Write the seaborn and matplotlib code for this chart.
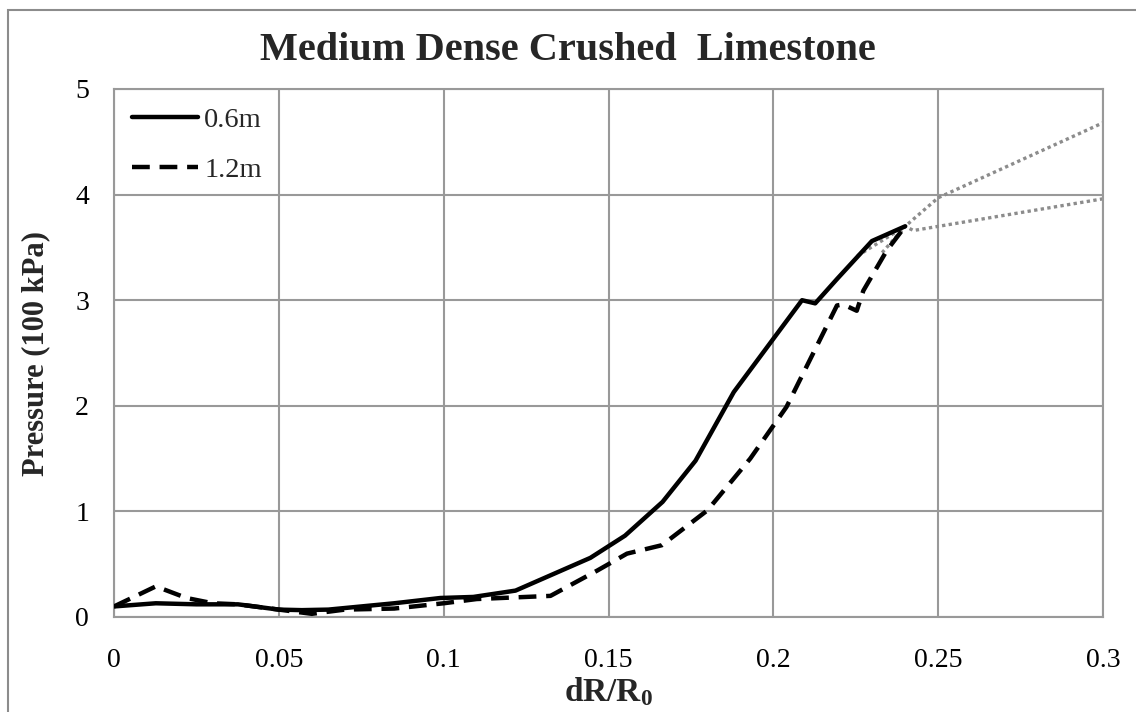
import matplotlib
matplotlib.use("Agg")
import matplotlib.pyplot as plt
import seaborn as sns
import pandas as pd
from matplotlib.patches import Rectangle

# ---- data ----
x_06 = [0, 0.0127, 0.025, 0.0376, 0.05, 0.057, 0.065, 0.075, 0.085, 0.099, 0.109, 0.1218,
        0.1445, 0.155, 0.1664, 0.1764, 0.188, 0.2087, 0.2127, 0.2193, 0.2299, 0.24]
y_06 = [0.10, 0.13, 0.12, 0.12, 0.07, 0.065, 0.07, 0.10, 0.13, 0.18, 0.19, 0.25,
        0.56, 0.77, 1.09, 1.48, 2.13, 3.00, 2.97, 3.20, 3.56, 3.70]

x_12 = [0, 0.0127, 0.022, 0.03, 0.0376, 0.05, 0.06, 0.07, 0.085, 0.10, 0.11, 0.1324,
        0.1466, 0.1556, 0.1662, 0.18, 0.193, 0.204, 0.2193, 0.2212, 0.2253, 0.2273, 0.2344, 0.24]
y_12 = [0.10, 0.29, 0.18, 0.13, 0.12, 0.07, 0.03, 0.07, 0.08, 0.13, 0.17, 0.20,
        0.44, 0.60, 0.68, 1.01, 1.50, 1.99, 2.95, 2.96, 2.90, 3.09, 3.47, 3.70]

# extrapolation (gray dotted)
x_ext_a = [0.2255, 0.24, 0.25, 0.30]
y_ext_a = [3.42, 3.70, 3.97, 4.68]
x_ext_b = [0.233, 0.24, 0.2425, 0.30]
y_ext_b = [3.45, 3.70, 3.66, 3.96]

series_labels = ["0.6m", "1.2m"]
title = "Medium Dense Crushed  Limestone"
xlabel = r"dR/R$_{\mathbf{0}}$"
ylabel = "Pressure (100 kPa)"
xticks = [0, 0.05, 0.1, 0.15, 0.2, 0.25, 0.3]
xtick_labels = ["0", "0.05", "0.1", "0.15", "0.2", "0.25", "0.3"]
yticks = [0, 1, 2, 3, 4, 5]

sns.set_style("white")
plt.rcParams["font.family"] = ["Liberation Serif", "DejaVu Serif"]
plt.rcParams["mathtext.fontset"] = "custom"
plt.rcParams["mathtext.rm"] = "Liberation Serif"
plt.rcParams["mathtext.bf"] = "Liberation Serif:bold"
plt.rcParams["mathtext.it"] = "Liberation Serif:italic"

fig = plt.figure(figsize=(11.36, 7.12), dpi=100)
ax = fig.add_axes([114/1136, 1-617/712, (1103-114)/1136, (617-89)/712])

grid_c = "#999999"
df_a = pd.DataFrame({"x": x_ext_a, "y": y_ext_a})
df_b = pd.DataFrame({"x": x_ext_b, "y": y_ext_b})
for d in (df_a, df_b):
    sns.lineplot(data=d, x="x", y="y", ax=ax, color="#8c8c8c", lw=2.4,
                 linestyle=(0, (1, 1)), sort=False, zorder=2)

df06 = pd.DataFrame({"x": x_06, "y": y_06})
df12 = pd.DataFrame({"x": x_12, "y": y_12})
sns.lineplot(data=df06, x="x", y="y", ax=ax, color="black", lw=3.2,
             label=series_labels[0], sort=False, zorder=3)
sns.lineplot(data=df12, x="x", y="y", ax=ax, color="black", lw=3.2,
             linestyle=(0, (4, 2.2)), label=series_labels[1], sort=False, zorder=3)

ax.set_xlim(0, 0.3)
ax.set_ylim(0, 5)
ax.set_xticks(xticks)
ax.set_xticklabels(xtick_labels)
ax.set_yticks(yticks)
ax.grid(True, color=grid_c, lw=1.5)
ax.set_axisbelow(True)
for s in ax.spines.values():
    s.set_color(grid_c)
    s.set_linewidth(1.5)
ax.tick_params(axis="both", length=0, labelsize=20, colors="black")
ax.tick_params(axis="x", pad=22)
ax.tick_params(axis="y", pad=18)

ax.set_xlabel(xlabel, fontsize=24, fontweight="bold", labelpad=2)
ax.set_ylabel(ylabel, fontsize=22, fontweight="bold", labelpad=18)

fig.text(0.5, 1-50/712, title, ha="center", va="center", fontsize=29, fontweight="bold")

leg = ax.legend(loc="upper left", bbox_to_anchor=(0.012, 0.976), frameon=False,
                fontsize=20.5, handlelength=2.35, handletextpad=0.2, labelspacing=0.85,
                borderpad=0.2, borderaxespad=0)

fig.add_artist(Rectangle((8/1136, -0.1), 1.2, 1-10/712+0.1, transform=fig.transFigure,
                         fill=False, edgecolor="#8c8c8c", lw=1.5))

fig.savefig("out.png", dpi=100)
